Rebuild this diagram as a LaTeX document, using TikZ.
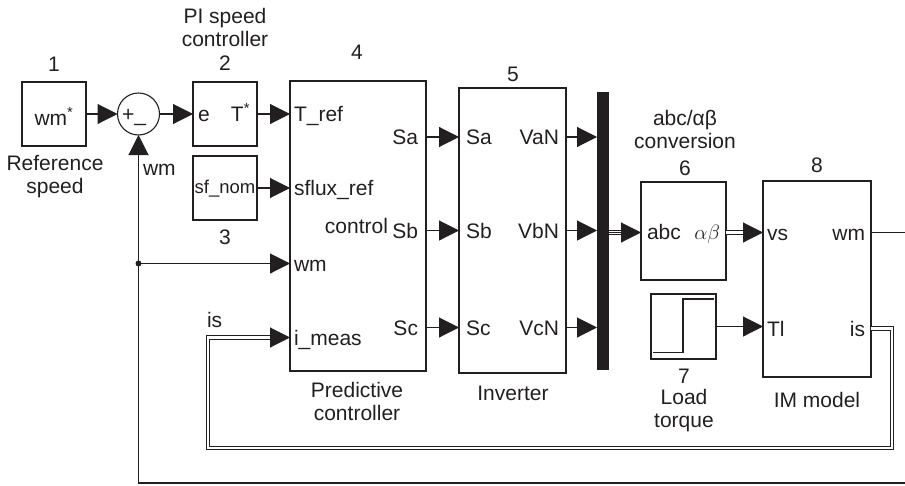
\documentclass[tikz,border=0pt]{standalone}
\usepackage{fontspec}
\setmainfont{Liberation Sans}
\usetikzlibrary{arrows.meta,calc}
\definecolor{ink}{RGB}{35,31,32}
\begin{document}
\begin{tikzpicture}[x=1pt,y=-1pt,
  blk/.style={draw=ink, line width=1.1pt, inner sep=0pt, outer sep=0pt, rectangle},
  lbl/.style={inner sep=0pt, outer sep=0pt, font=\fontsize{21}{24}\selectfont, text=ink, text height=15pt, text depth=0pt},
  wire/.style={draw=ink, line width=1.1pt},
  arr/.style={wire, -{Triangle[length=20pt,width=20pt]}},
  dbl/.style={draw=ink, line width=0.9pt, double=white, double distance=2.4pt}
]
\useasboundingbox (0,0) rectangle (905,485);

% ---------- blocks ----------
\node[blk, minimum width=64pt, minimum height=64pt] (b1) at (54,114) {};
\node[draw=ink, line width=1.1pt, circle, minimum size=42pt, inner sep=0pt, outer sep=0pt] (sum) at (138.5,114) {};
\node[blk, minimum width=64pt, minimum height=64pt] (b2) at (225,114) {};
\node[blk, minimum width=64pt, minimum height=64pt] (b3) at (225,188) {};
\node[blk, minimum width=136pt, minimum height=290pt] (b4) at (358,226) {};
\node[blk, minimum width=107pt, minimum height=285pt] (b5) at (512.5,230.5) {};
\node[fill=ink, draw=none, minimum width=12pt, minimum height=278pt, inner sep=0pt, outer sep=0pt] (mux) at (603,231) {};
\node[blk, minimum width=85pt, minimum height=98pt] (b6) at (683.5,231) {};
\node[blk, minimum width=65pt, minimum height=65pt] (b7) at (683.5,326.5) {};
\node[blk, minimum width=108pt, minimum height=196pt] (b8) at (817,279) {};

% step graphic inside block 7
\draw[ink, line width=1.1pt] (b7.south west) ++(2,-6.5) coordinate (s0) -- ++(30,0) coordinate (s1) |- ($(b7.north east)+(-2,5)$) coordinate (s2);

% ---------- texts inside blocks ----------
\node[lbl] (twm1) at (54,117.5) {wm\textsuperscript{*}};
\node[lbl, anchor=base] (tsum) at (134,121) {+\_};
\node[lbl, anchor=west] (te) at (198,113.5) {e};
\node[lbl, anchor=east] (tT) at (250,113.5) {T\textsuperscript{*}};
\node[inner sep=0pt, font=\fontsize{18.5}{22}\selectfont, text=ink, text height=13pt, text depth=0pt] (tsf) at (225,186.5) {sf\_nom};

\node[lbl, anchor=west] (pTref) at (294,114) {T\_ref};
\node[lbl, anchor=west] (psflux) at (294,187.5) {sflux\_ref};
\node[lbl, anchor=west] (pwm4) at (294,263.5) {wm};
\node[lbl, anchor=west] (pimeas) at (294,337.5) {i\_meas};
\node[lbl, anchor=east] (pSa4) at (418,137) {Sa};
\node[lbl, anchor=east] (pSb4) at (418,230.5) {Sb};
\node[lbl, anchor=east] (pSc4) at (418,327.5) {Sc};
\node[lbl, anchor=east] (pctrl) at (388,225.5) {control};

\node[lbl, anchor=west] (pSa5) at (466,137) {Sa};
\node[lbl, anchor=west] (pSb5) at (466,230.5) {Sb};
\node[lbl, anchor=west] (pSc5) at (466,327.5) {Sc};
\node[lbl, anchor=east] (pVa) at (559,137) {VaN};
\node[lbl, anchor=east] (pVb) at (559,230.5) {VbN};
\node[lbl, anchor=east] (pVc) at (559,327.5) {VcN};

\node[lbl, anchor=west] (pabc) at (647,231.5) {abc};
\node[lbl, anchor=east] (pab) at (720,231.5) {$\alpha\beta$};

\node[lbl, anchor=west] (pvs) at (767,232.5) {vs};
\node[lbl, anchor=east] (pwm8) at (865,232.5) {wm};
\node[lbl, anchor=west] (pTl) at (767,328.5) {Tl};
\node[lbl, anchor=east] (pis8) at (865,328.5) {is};

% ---------- texts outside blocks ----------
\node[lbl] (n1) at (54,64) {1};
\node[lbl] (ref1) at (55,162.5) {Reference};
\node[lbl] (ref2) at (55,185.5) {speed};
\node[lbl] (pi1) at (225,15.5) {PI speed};
\node[lbl] (pi2) at (225,38.5) {controller};
\node[lbl] (n2) at (225,63) {2};
\node[lbl] (n3) at (225,237) {3};
\node[lbl, anchor=west] (lwm) at (143,167.5) {wm};
\node[lbl, anchor=west] (lis) at (207,319.5) {is};
\node[lbl] (n4) at (357,52) {4};
\node[lbl] (pc1) at (357,389.5) {Predictive};
\node[lbl] (pc2) at (357,412.5) {controller};
\node[lbl] (n5) at (513,74) {5};
\node[lbl] (inv) at (513,392.5) {Inverter};
\node[lbl] (cv1) at (685,118) {abc/αβ};
\node[lbl] (cv2) at (685,140.5) {conversion};
\node[lbl] (n6) at (685,167.5) {6};
\node[lbl] (n7) at (684,376) {7};
\node[lbl] (lt1) at (684,397) {Load};
\node[lbl] (lt2) at (684,419.5) {torque};
\node[lbl] (n8) at (817,165) {8};
\node[lbl] (im) at (817,400) {IM model};

% ---------- connectors ----------
\draw[arr] (b1.east) -- (sum.west);
\draw[arr] (sum.east) -- (b2.west);
\draw[arr] (b2.east) -- (b4.west |- b2.east);
\draw[arr] (b3.east) -- (b4.west |- b3.east);

\draw[arr] (b4.east |- pSa4) -- (b5.west |- pSa4);
\draw[arr] (b4.east |- pSb4) -- (b5.west |- pSb4);
\draw[arr] (b4.east |- pSc4) -- (b5.west |- pSc4);
\draw[arr] (b5.east |- pVa) -- (mux.west |- pVa);
\draw[arr] (b5.east |- pVb) -- (mux.west |- pVb);
\draw[arr] (b5.east |- pVc) -- (mux.west |- pVc);

% triple line mux -> block 6
\coordinate (m6a) at (mux.east |- 0,232.5);
\coordinate (m6b) at (b6.west |- 0,232.5);
\draw[dbl, shorten >=18pt] (m6a) -- (m6b);
\draw[ink, line width=0.9pt, shorten >=18pt] (m6a) -- (m6b);
\draw[arr] ($(m6b)+(-20,0)$) -- (m6b);

% double line block 6 -> block 8
\coordinate (v6a) at (b6.east |- 0,232.5);
\coordinate (v6b) at (b8.west |- 0,232.5);
\draw[dbl, shorten >=18pt] (v6a) -- (v6b);
\draw[arr] ($(v6b)+(-20,0)$) -- (v6b);

% load torque
\draw[arr] (b7.east) -- (b8.west |- b7.east);

% speed output and feedback
\coordinate (wmout) at (905,232.5);
\draw[wire] (b8.east |- pwm8) -- (wmout);
\coordinate (wmret) at (905,483);
\coordinate (wmcorner) at (sum.south |- wmret);
\draw[arr] (wmret) -- (wmcorner) -- (sum.south);
\coordinate (dot) at (sum.south |- pwm4);
\fill[ink] (dot) circle (3pt);
\draw[arr] (dot) -- (b4.west |- dot);

% current feedback (double line)
\coordinate (isR) at (892,448);
\coordinate (isL) at (208,448);
\coordinate (isIn) at (b4.west |- pimeas);
\draw[dbl, shorten >=18pt] (b8.east |- pis8) -| (isR) -- (isL) |- (isIn);
\draw[arr] ($(isIn)+(-20,0)$) -- (isIn);
\end{tikzpicture}
\end{document}
